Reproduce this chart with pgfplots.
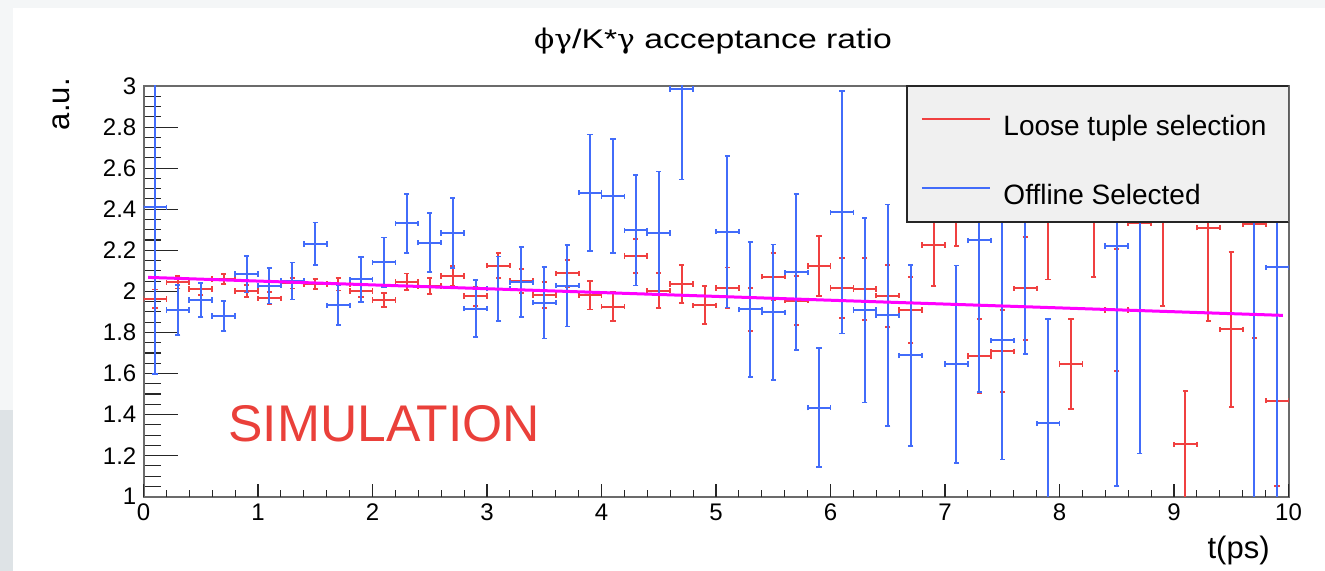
\documentclass[border=0pt]{standalone}
\usepackage{pgfplots}
\pgfplotsset{compat=1.18}
\usepackage{pgfplotstable}
\usepackage{fontspec}
\setmainfont{Liberation Sans}
\newfontfamily\titlefont[FakeStretch=1.25]{Liberation Sans}
\newfontfamily\grk[FakeStretch=1.1]{DejaVu Serif}
\definecolor{redC}{RGB}{240,64,64}
\definecolor{blueC}{RGB}{66,108,250}
\definecolor{fitC}{RGB}{255,0,255}
\definecolor{simC}{RGB}{234,64,58}
\definecolor{legbg}{RGB}{240,240,240}
\definecolor{stripA}{RGB}{244,246,247}
\definecolor{stripB}{RGB}{222,227,230}

% Loose tuple selection
\pgfplotstableread{
x   y     ey
0.1 1.963 0.046
0.3 2.044 0.030
0.5 2.011 0.030
0.7 2.060 0.025
0.9 2.002 0.030
1.1 1.966 0.030
1.3 2.039 0.025
1.5 2.036 0.025
1.7 2.034 0.030
1.9 2.002 0.030
2.1 1.958 0.035
2.3 2.047 0.040
2.5 2.026 0.040
2.7 2.075 0.050
2.9 1.977 0.047
3.1 2.125 0.060
3.3 2.050 0.060
3.5 1.982 0.062
3.7 2.088 0.065
3.9 1.982 0.070
4.1 1.925 0.070
4.3 2.172 0.084
4.5 2.003 0.085
4.7 2.036 0.093
4.9 1.933 0.093
5.1 2.016 0.100
5.3 1.912 0.105
5.5 2.071 0.116
5.7 1.955 0.120
5.9 2.123 0.146
6.1 2.016 0.145
6.3 2.011 0.150
6.5 1.978 0.150
6.7 1.909 0.162
6.9 2.226 0.200
7.1 2.520 0.300
7.3 1.685 0.180
7.5 1.708 0.200
7.7 2.015 0.250
7.9 2.450 0.392
8.1 1.646 0.220
8.3 2.500 0.429
8.5 1.909 0.297
8.7 2.331 0.419
8.9 2.420 0.490
9.1 1.255 0.260
9.3 2.310 0.454
9.5 1.815 0.377
9.7 2.328 0.554
9.9 1.468 0.416
}\redtab

% Offline Selected
\pgfplotstableread{
x   y     ey
0.1 2.409 0.810
0.3 1.909 0.120
0.5 1.958 0.083
0.7 1.880 0.072
0.9 2.084 0.090
1.1 2.028 0.087
1.3 2.050 0.090
1.5 2.231 0.104
1.7 1.933 0.097
1.9 2.058 0.111
2.1 2.141 0.121
2.3 2.331 0.144
2.5 2.237 0.144
2.7 2.284 0.169
2.9 1.916 0.140
3.1 2.013 0.157
3.3 2.044 0.170
3.5 1.945 0.175
3.7 2.028 0.199
3.9 2.481 0.283
4.1 2.463 0.278
4.3 2.297 0.269
4.5 2.284 0.300
4.7 2.985 0.440
5.1 2.291 0.370
5.3 1.912 0.330
5.5 1.898 0.330
5.7 2.093 0.380
5.9 1.433 0.290
6.1 2.385 0.590
6.3 1.909 0.450
6.5 1.883 0.540
6.7 1.688 0.440
7.1 1.646 0.480
7.3 2.248 0.740
7.5 1.761 0.580
7.7 2.450 0.757
7.9 1.357 0.510
8.5 2.221 1.170
8.7 2.500 1.290
9.7 2.600 1.750
9.9 2.117 1.300
}\bluetab

\begin{document}
\begin{tikzpicture}
\useasboundingbox (-71.75pt,-37.15pt) rectangle (590.75pt,248.35pt);
\fill[white] (-71.75pt,-37.15pt) rectangle (590.75pt,248.35pt);
\fill[stripA] (-71.75pt,43.35pt) rectangle (-65.25pt,248.35pt);
\fill[stripB] (-71.75pt,-37.15pt) rectangle (-65.25pt,43.35pt);
\fill[stripA] (-65.25pt,244.35pt) rectangle (590.75pt,248.35pt);
\begin{axis}[
  at={(0pt,0pt)}, anchor=south west,
  scale only axis, width=572.5pt, height=205.35pt,
  xmin=0, xmax=10, ymin=1, ymax=3,
  xtick=\empty,
  ytick={1,1.2,1.4,1.6,1.8,2,2.2,2.4,2.6,2.8,3},
  minor y tick num=3,
  tick align=inside, ytick pos=left,
  axis line style={draw=black!58, line width=1pt},
  tick style={draw=black!85, line width=0.55pt},
  major tick length=17.5pt, minor tick length=9pt,
  /pgf/number format/assume math mode=true,
  ticklabel style={font=\fontsize{12}{14}\selectfont},
  yticklabel style={inner sep=0pt, anchor=east, xshift=-3.4pt},
  title={{\grk ϕγ}/K*{\grk γ} acceptance ratio},
  title style={at={(0.4974,1)}, anchor=base, yshift=12.85pt, inner sep=0pt,
    font=\titlefont\fontsize{13.5}{16}\selectfont},
  xlabel={t(ps)},
  xlabel style={at={(axis description cs:0.98384,-0.14926)}, anchor=base east,
    inner sep=0pt, font=\fontsize{15.5}{18}\selectfont},
  ylabel={a.u.},
  ylabel style={at={(axis description cs:-0.0642,1.0195)}, anchor=base east,
    inner sep=0pt, font=\fontsize{15.5}{18}\selectfont},
]
\addplot[draw=none, mark=none,
  error bars/.cd, x dir=both, x fixed=0.1, y dir=both, y explicit,
  error mark=-,
  error bar style={draw=redC, line width=1pt, solid},
  error mark options={rotate=90, draw=redC, line width=0.9pt, mark size=1.3pt, solid}]
  table[x=x, y=y, y error=ey] {\redtab};
\addplot[draw=none, mark=none,
  error bars/.cd, x dir=both, x fixed=0.1, y dir=both, y explicit,
  error mark=-,
  error bar style={draw=blueC, line width=1pt, solid},
  error mark options={rotate=90, draw=blueC, line width=0.9pt, mark size=1.3pt, solid}]
  table[x=x, y=y, y error=ey] {\bluetab};
\addplot[fitC, line width=1.5pt] coordinates {(0.04,2.068) (9.95,1.883)};

\node[anchor=base west, inner sep=0pt, text=simC, font=\fontsize{25.8}{30}\selectfont]
  at (axis cs:0.738,1.2674) {SIMULATION};

% legend
\draw[black!85, line width=0.7pt, fill=legbg] (axis cs:6.668,3) rectangle (axis cs:10,2.3375);
\draw[redC, line width=1pt] (axis cs:6.797,2.838) -- (axis cs:7.393,2.838);
\node[anchor=base west, inner sep=0pt, font=\fontsize{14}{16}\selectfont]
  at (axis cs:7.507,2.761) {Loose tuple selection};
\draw[blueC, line width=1pt] (axis cs:6.797,2.505) -- (axis cs:7.393,2.505);
\node[anchor=base west, inner sep=0pt, font=\fontsize{14}{16}\selectfont]
  at (axis cs:7.507,2.425) {Offline Selected};
\end{axis}
% x-axis ticks and labels (shorter ticks than the y axis)
\begin{axis}[
  at={(0pt,0pt)}, anchor=south west,
  scale only axis, width=572.5pt, height=205.35pt,
  xmin=0, xmax=10, ymin=1, ymax=3,
  xtick={0,1,2,3,4,5,6,7,8,9,10},
  ytick=\empty, minor x tick num=4,
  tick align=inside, xtick pos=bottom,
  axis line style={draw=none},
  tick style={draw=black!85, line width=0.55pt},
  major tick length=6.5pt, minor tick length=3.4pt,
  /pgf/number format/assume math mode=true,
  xticklabel style={font=\fontsize{12}{14}\selectfont, inner sep=0pt, anchor=north, yshift=-3.2pt},
]
\end{axis}
\end{tikzpicture}
\end{document}
